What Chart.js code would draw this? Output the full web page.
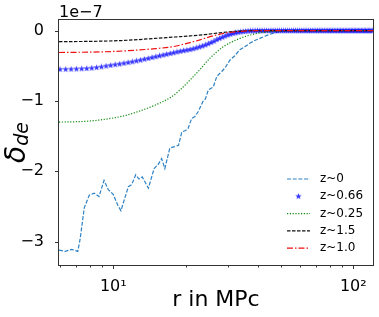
<!DOCTYPE html>
<html>
<head>
<meta charset="utf-8">
<script src="https://cdn.jsdelivr.net/npm/chart.js@4.4.1/dist/chart.umd.min.js"></script>
<style>
  html, body { margin: 0; padding: 0; background: #fff; }
  #wrap { width: 379px; height: 317px; }
</style>
</head>
<body>
<div id="wrap"><canvas id="chart" width="379" height="317"></canvas></div>
<script>
const FONT = 'DejaVu Sans';

// all values in units of 1e-7 (shown as offset text above the axis)
const seriesLabels = ['z~0', 'z~0.66', 'z~0.25', 'z~1.5', 'z~1.0'];

// z~0 : noisy dashed curve
const z0R = [5.94, 6.3, 6.71, 7.11, 7.27, 7.57, 7.94, 8.33, 8.72, 9.15, 9.53, 10.0, 10.43, 10.76, 11.55, 11.93,
  12.4, 12.8, 13.2, 14.0, 14.8, 15.4, 15.9, 16.4, 17.2, 18.0, 18.7, 19.3, 20.0, 20.5, 21.2, 21.9, 22.6, 23.6,
  24.2, 24.9, 26.1, 27.0, 28.3, 29.2, 30.6, 32.0, 33.7, 35.3, 37.0, 38.8, 40.8, 42.8, 45.0, 47.2, 49.5, 52.0,
  54.4, 60, 70, 80, 90, 100, 110, 120.8];
const z0V = [-3.12, -3.14, -3.11, -3.14, -2.97, -2.52, -2.34, -2.31, -2.36, -2.13, -2.26, -2.33, -2.48, -2.56, -2.22, -2.19,
  -2.05, -2.11, -2.08, -2.24, -1.96, -1.90, -1.82, -1.96, -1.67, -1.65, -1.63, -1.44, -1.42, -1.39, -1.25, -1.22, -1.15, -1.01,
  -0.97, -0.84, -0.80, -0.65, -0.58, -0.53, -0.42, -0.36, -0.27, -0.23, -0.18, -0.14, -0.11, -0.08, -0.05, -0.03, -0.01, -0.005,
  0, 0, 0, 0, 0, 0, 0, 0];

// z~0.66 : star markers
const z066R = [6.0, 6.33, 6.67, 7.02, 7.38, 7.75, 8.13, 8.52, 8.92, 9.33, 9.75, 10.18, 10.62, 11.07, 11.53, 12.0,
  12.48, 12.97, 13.47, 13.98, 14.5, 15.03, 15.57, 16.12, 16.68, 17.25, 17.83, 18.42, 19.02, 19.63, 20.25, 20.88,
  21.52, 22.17, 22.83, 23.5, 24.18, 24.87, 25.57, 26.28, 27.0,
  27.73, 28.47, 29.22, 29.98, 30.75, 31.53, 32.32, 33.12, 33.93, 34.75, 35.58, 36.42, 37.27, 38.13, 39.0,
  39.88, 40.77, 41.67, 42.58, 43.5, 44.43, 45.37, 46.32, 47.28, 48.25,
  49.23, 50.22, 51.22, 52.23, 53.25, 54.28, 55.32, 56.37, 57.43, 58.5,
  59.58, 60.67, 61.77, 62.88, 64.0, 65.13, 66.27, 67.42, 68.58, 69.75,
  70.93, 72.12, 73.32, 74.53, 75.75, 76.98, 78.22, 79.47, 80.73, 82.0,
  83.28, 84.57, 85.87, 87.18, 88.5, 89.83, 91.17, 92.52, 93.88, 95.25,
  96.63, 98.02, 99.42, 100.83, 102.25, 103.68, 105.12, 106.57, 108.03, 109.5,
  110.98, 112.47, 113.97, 115.48, 117.0, 118.53, 120.07];
const z066V = [-0.550, -0.549, -0.547, -0.545, -0.542, -0.538, -0.532, -0.524, -0.514, -0.503, -0.493, -0.483, -0.474, -0.464, -0.453, -0.442,
  -0.430, -0.418, -0.406, -0.394, -0.382, -0.370, -0.358, -0.347, -0.336, -0.325, -0.314, -0.303, -0.293, -0.284, -0.276, -0.268,
  -0.257, -0.245, -0.232, -0.218, -0.203, -0.186, -0.168, -0.150, -0.128,
  -0.110, -0.093, -0.077, -0.062, -0.050, -0.040, -0.031, -0.023, -0.017, -0.012, -0.008, -0.005, -0.003, -0.002, -0.001,
  0, 0, 0, 0, 0, 0, 0, 0, 0, 0,
  0, 0, 0, 0, 0, 0, 0, 0, 0, 0,
  0, 0, 0, 0, 0, 0, 0, 0, 0, 0,
  0, 0, 0, 0, 0, 0, 0, 0, 0, 0,
  0, 0, 0, 0, 0, 0, 0, 0, 0, 0,
  0, 0, 0, 0, 0, 0, 0, 0, 0, 0,
  0, 0, 0, 0, 0, 0, 0];

// z~0.25 : green dotted
const z025R = [5.94, 7.0, 8.0, 9.23, 10.8, 12.7, 14.9, 17.5, 19.0, 20.9, 23.0, 25.3, 28.7, 33.7, 39.6, 46.4, 55, 70, 90, 120.8];
const z025V = [-1.30, -1.295, -1.285, -1.26, -1.22, -1.15, -1.06, -0.94, -0.84, -0.70, -0.55, -0.39, -0.23, -0.11, -0.04, -0.01, 0, 0, 0, 0];

// z~1.5 : black dashed
const z15R = [5.94, 8.0, 10.84, 14.92, 18.0, 20.87, 24.1, 27.0, 30.6, 34.0, 37.1, 50, 80, 120.8];
const z15V = [-0.156, -0.152, -0.14, -0.11, -0.09, -0.075, -0.055, -0.035, -0.015, -0.005, 0, 0, 0, 0];

// z~1.0 : red dash-dot
const z10R = [5.94, 9.23, 12.71, 15.0, 17.5, 20.87, 23.0, 25.3, 28.7, 33.7, 39.6, 50, 80, 120.8];
const z10V = [-0.31, -0.30, -0.275, -0.255, -0.23, -0.17, -0.13, -0.085, -0.04, -0.01, 0, 0, 0, 0];

const xTickValues = [6, 7, 8, 9, 10, 20, 30, 40, 50, 60, 70, 80, 90, 100];
const xTickLabels = { 10: '10\u00b9', 100: '10\u00b2' };
const yTickValues = [-3, -2, -1, 0];

function pts(rs, vs) {
  return rs.map((r, i) => ({ x: r, y: vs[i] }));
}

// matplotlib-like filled 5 point star marker
function starImage() {
  const c = document.createElement('canvas');
  c.width = 7; c.height = 7;
  const g = c.getContext('2d');
  g.beginPath();
  for (let i = 0; i < 10; i++) {
    const rad = i % 2 ? 1.4 : 3.4;
    const a = -Math.PI / 2 + i * Math.PI / 5;
    g.lineTo(3.5 + rad * Math.cos(a), 3.6 + rad * Math.sin(a));
  }
  g.closePath();
  g.fillStyle = 'rgba(20,20,255,0.85)';
  g.fill();
  return c;
}
const star = starImage();

const lineStyles = [
  { color: '#2f82c4', dash: [4, 1.7] },
  { color: '#1414ff', marker: true },
  { color: '#118a11', dash: [1.2, 1.6] },
  { color: '#111', dash: [3.5, 1.5] },
  { color: '#f01010', dash: [6, 2, 1.5, 2] }
];

// frame, tick marks, y title with subscript, offset text and legend
const decorations = {
  id: 'decorations',
  afterDatasetsDraw(chart) {
    const { ctx, chartArea: a, scales } = chart;
    ctx.save();
    ctx.strokeStyle = '#333';
    ctx.lineWidth = 1;
    ctx.setLineDash([]);
    ctx.strokeRect(a.left - 0.5, a.top - 0.5, a.right - a.left + 1, a.bottom - a.top + 1);

    ctx.beginPath();
    scales.x.ticks.forEach(t => {
      const px = Math.round(scales.x.getPixelForValue(t.value)) + 0.5;
      ctx.moveTo(px, a.bottom + 0.5);
      ctx.lineTo(px, a.bottom + (t.major ? 4 : 2.5));
    });
    scales.y.ticks.forEach(t => {
      const py = Math.round(scales.y.getPixelForValue(t.value)) + 0.5;
      ctx.moveTo(a.left - 0.5, py);
      ctx.lineTo(a.left - 4, py);
    });
    ctx.stroke();

    // offset text
    ctx.fillStyle = '#000';
    ctx.font = '16px "' + FONT + '"';
    ctx.textAlign = 'left';
    ctx.textBaseline = 'alphabetic';
    ctx.fillText('1e\u22127', a.left, 17);

    // y title: delta with subscript "de"
    ctx.save();
    ctx.translate(25, (a.top + a.bottom) / 2);
    ctx.rotate(-Math.PI / 2);
    ctx.font = 'italic 28px "' + FONT + '"';
    const w1 = ctx.measureText('\u03b4').width;
    ctx.font = 'italic 19px "' + FONT + '"';
    const w2 = ctx.measureText('de').width;
    const x0 = -(w1 + w2) / 2;
    ctx.font = 'italic 28px "' + FONT + '"';
    ctx.fillText('\u03b4', x0, 0);
    ctx.font = 'italic 19px "' + FONT + '"';
    ctx.fillText('de', x0 + w1, 3);
    ctx.restore();

    // legend
    const lx0 = 287, lx1 = 310, ly0 = 179, step = 17.3;
    ctx.font = '12px "' + FONT + '"';
    ctx.textBaseline = 'middle';
    seriesLabels.forEach((label, i) => {
      const s = lineStyles[i];
      const y = ly0 + i * step;
      if (s.marker) {
        ctx.drawImage(star, (lx0 + lx1) / 2 - 3.5, y - 3.5);
      } else {
        ctx.beginPath();
        ctx.strokeStyle = s.color;
        ctx.lineWidth = 1.2;
        ctx.setLineDash(s.dash);
        ctx.moveTo(lx0, y);
        ctx.lineTo(lx1, y);
        ctx.stroke();
      }
      ctx.setLineDash([]);
      ctx.fillStyle = '#000';
      ctx.fillText(label, 320, y);
    });
    ctx.restore();
  }
};

const seriesData = [pts(z0R, z0V), pts(z066R, z066V), pts(z025R, z025V), pts(z15R, z15V), pts(z10R, z10V)];

const datasets = seriesLabels.map((label, i) => {
  const s = lineStyles[i];
  const base = { label, data: seriesData[i], order: 5 - i };
  if (s.marker) {
    return Object.assign(base, {
      showLine: false,
      pointStyle: star,
      pointRadius: 3.5
    });
  }
  return Object.assign(base, {
    borderColor: s.color,
    borderWidth: 1.2,
    borderDash: s.dash,
    pointRadius: 0,
    tension: 0,
    cubicInterpolationMode: i === 0 ? 'default' : 'monotone'
  });
});

new Chart(document.getElementById('chart'), {
  type: 'line',
  data: { datasets },
  options: {
    responsive: false,
    animation: false,
    events: [],
    layout: { padding: { top: 20, right: 6, left: 0, bottom: 0 } },
    plugins: { legend: { display: false }, tooltip: { enabled: false } },
    scales: {
      x: {
        type: 'logarithmic',
        min: 5.94,
        max: 120.8,
        grid: { display: false },
        border: { display: false },
        afterBuildTicks: scale => {
          scale.ticks = xTickValues.map(v => ({ value: v, major: v === 10 || v === 100 }));
        },
        afterFit: scale => { scale.height = 52; },
        ticks: {
          autoSkip: false,
          maxRotation: 0,
          padding: 4,
          color: '#000',
          font: { family: FONT, size: 16 },
          callback: v => xTickLabels[v] || ''
        },
        title: {
          display: true,
          text: 'r in MPc',
          color: '#000',
          font: { family: FONT, size: 22 },
          padding: { top: 0, bottom: 4 }
        }
      },
      y: {
        type: 'linear',
        min: -3.333,
        max: 0.152,
        grid: { display: false },
        border: { display: false },
        afterBuildTicks: scale => {
          scale.ticks = yTickValues.map(v => ({ value: v }));
        },
        afterFit: scale => { scale.width = 59; },
        ticks: {
          padding: 7,
          color: '#000',
          font: { family: FONT, size: 16 },
          callback: v => (v === 0 ? '0' : '\u2212' + Math.abs(v))
        }
      }
    }
  },
  plugins: [decorations]
});
</script>
</body>
</html>
